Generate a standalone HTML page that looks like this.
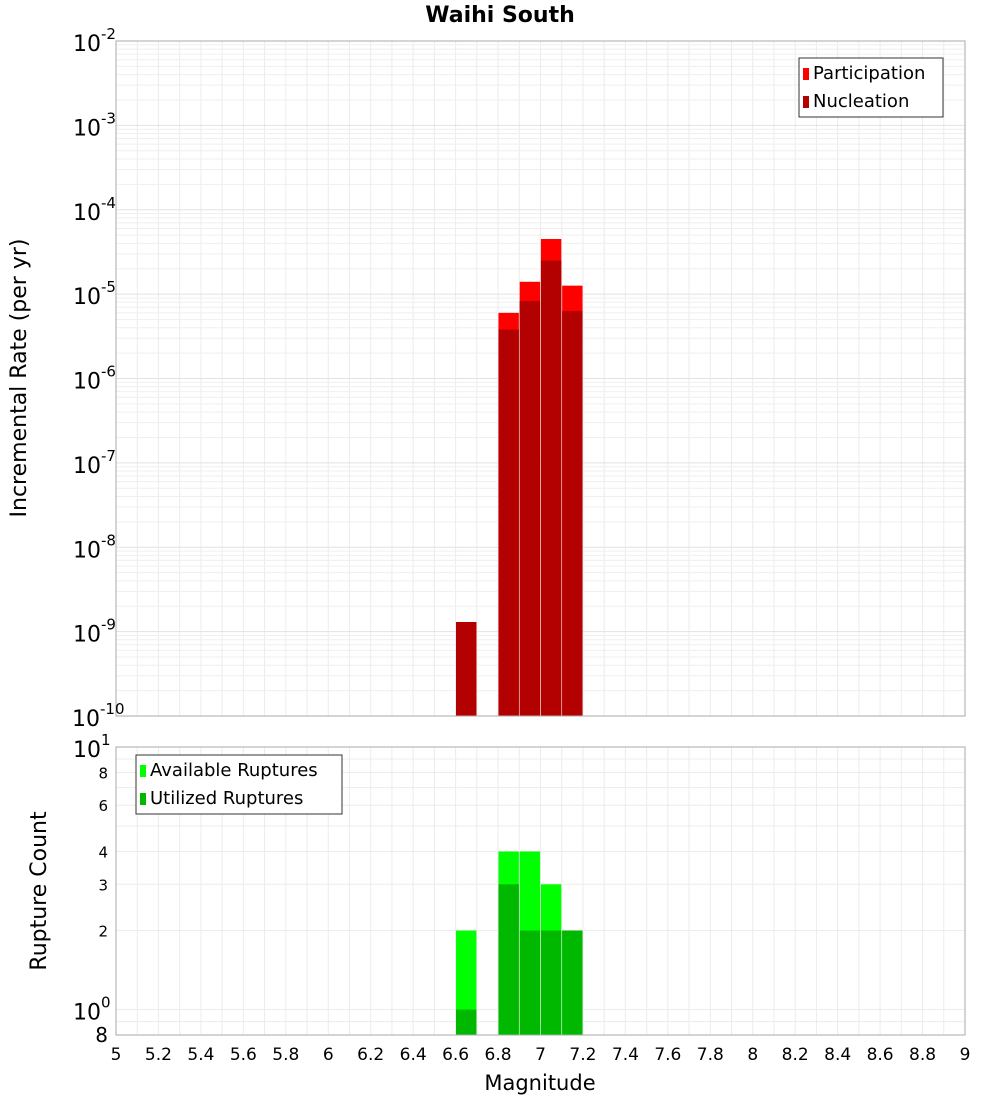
<!DOCTYPE html>
<html><head><meta charset="utf-8"><style>
body{margin:0;background:#fff;font-family:"Liberation Sans","DejaVu Sans",sans-serif}
svg text{font-family:"DejaVu Sans","Liberation Sans",sans-serif}
</style></head><body>
<svg id="c" width="1000" height="1100" xmlns="http://www.w3.org/2000/svg"></svg>
<script>
const mags=[6.65,6.85,6.95,7.05,7.15];
const participation=[1.3e-9,6e-6,1.4e-5,4.5e-5,1.26e-5];
const nucleation=[1.3e-9,3.8e-6,8.3e-6,2.5e-5,6.3e-6];
const available=[2,4,4,3,2];
const utilized=[1,3,2,2,2];
const xTicks=[5,5.2,5.4,5.6,5.8,6,6.2,6.4,6.6,6.8,7,7.2,7.4,7.6,7.8,8,8.2,8.4,8.6,8.8,9];
const topExps=[-2,-3,-4,-5,-6,-7,-8,-9,-10];
const botTicks=[2,3,4,6,8];

const svg=document.getElementById('c');const NS='http://www.w3.org/2000/svg';
function el(t,a,p){const e=document.createElementNS(NS,t);for(const k in a)e.setAttribute(k,a[k]);(p||svg).appendChild(e);return e;}
const X0=116,X1=965;
const x=m=>X0+(m-5)/4*(X1-X0);
const T0=41,T1=716;
const yT=v=>T0+(-2-Math.log10(v))/8*(T1-T0);
const B0=747,B1=1035;
const yB=v=>B0+(1-Math.log10(v))/Math.log10(10/0.8)*(B1-B0);

// title
let t=el('text',{x:500,y:22,'text-anchor':'middle','font-size':22,'font-weight':'bold'});t.textContent='Waihi South';


// plot backgrounds & grids
function grid(y0,y1){
  for(let m=5;m<=9.001;m+=0.1){const g=el('line',{x1:x(m),x2:x(m),y1:y0,y2:y1,stroke:'#ececec','stroke-width':1});}
}
grid(T0,T1);grid(B0,B1);
for(let e=-10;e<-2;e++)for(let k=1;k<10;k++){const y=yT(k*Math.pow(10,e));el('line',{x1:X0,x2:X1,y1:y,y2:y,stroke:k==1?'#e2e2e2':'#efefef'});}
for(const v of [0.8,0.9,1,2,3,4,5,6,7,8,9]){const y=yB(v);el('line',{x1:X0,x2:X1,y1:y,y2:y,stroke:'#ececec'});}

// top bars
mags.forEach((m,i)=>{
  let r=el('rect',{x:x(m-0.048),y:yT(participation[i]),width:x(m+0.048)-x(m-0.048),height:T1-yT(participation[i]),fill:'#ff0000'});
  
  r=el('rect',{x:x(m-0.048),y:yT(nucleation[i]),width:x(m+0.048)-x(m-0.048),height:T1-yT(nucleation[i]),fill:'#b30000'});
  
});
mags.forEach((m,i)=>{
  let r=el('rect',{x:x(m-0.048),y:yB(available[i]),width:x(m+0.048)-x(m-0.048),height:B1-yB(available[i]),fill:'#00ff00'});
  
  r=el('rect',{x:x(m-0.048),y:yB(utilized[i]),width:x(m+0.048)-x(m-0.048),height:B1-yB(utilized[i]),fill:'#00b800'});
  
});
let f=el('rect',{x:X0,y:T0,width:X1-X0,height:T1-T0,fill:'none',stroke:'#aaa'});

f=el('rect',{x:X0,y:B0,width:X1-X0,height:B1-B0,fill:'none',stroke:'#aaa'});


// top y ticks
topExps.forEach(e=>{
  const y=yT(Math.pow(10,e));
  const tx=el('text',{x:e==-10?72:73,y:y+10,'font-size':22});
  
  tx.appendChild(document.createTextNode('10'));
  const s=el('tspan',{dy:-12,'font-size':15},tx);s.textContent=String(e);
});
// bottom y ticks
[[1,'0'],[10,'1']].forEach(([v,e])=>{
  const y=yB(v);
  const tx=el('text',{x:73,y:y+10,'font-size':22});
  
  tx.appendChild(document.createTextNode('10'));
  const s=el('tspan',{dy:-12,'font-size':15},tx);s.textContent=e;
});
botTicks.forEach(v=>{const tx=el('text',{x:108,y:yB(v)+6,'font-size':15,'text-anchor':'end'});tx.textContent=v;
  });
t=el('text',{x:108,y:1042,'font-size':20,'text-anchor':'end'});t.textContent='8';


// x ticks
xTicks.forEach(m=>{const tx=el('text',{x:x(m),y:1060,'font-size':17,'text-anchor':'middle'});tx.textContent=String(m);
  });
t=el('text',{x:540,y:1090,'font-size':21,'text-anchor':'middle'});t.textContent='Magnitude';

t=el('text',{x:26,y:378,'font-size':22,'text-anchor':'middle',transform:'rotate(-90 26 378)'});t.textContent='Incremental Rate (per yr)';

t=el('text',{x:46,y:891,'font-size':22,'text-anchor':'middle',transform:'rotate(-90 46 891)'});t.textContent='Rupture Count';


// legends
function legend(bx,by,w,items,name){
  const g=el('g',{});
  el('rect',{x:bx,y:by,width:w,height:59,fill:'#fff',stroke:'#333'},g);
  items.forEach(([c,l],i)=>{
    el('rect',{x:bx+4,y:by+10+i*28,width:6,height:12,fill:c},g);
    const tx=el('text',{x:bx+14,y:by+21+i*28,'font-size':18},g);tx.textContent=l;
    
  });
}
legend(799,58,144,[['#ff0000','Participation'],['#b30000','Nucleation']],'legend-top');
legend(136,755,206,[['#00ff00','Available Ruptures'],['#00b800','Utilized Ruptures']],'legend-bottom');
</script></body></html>
